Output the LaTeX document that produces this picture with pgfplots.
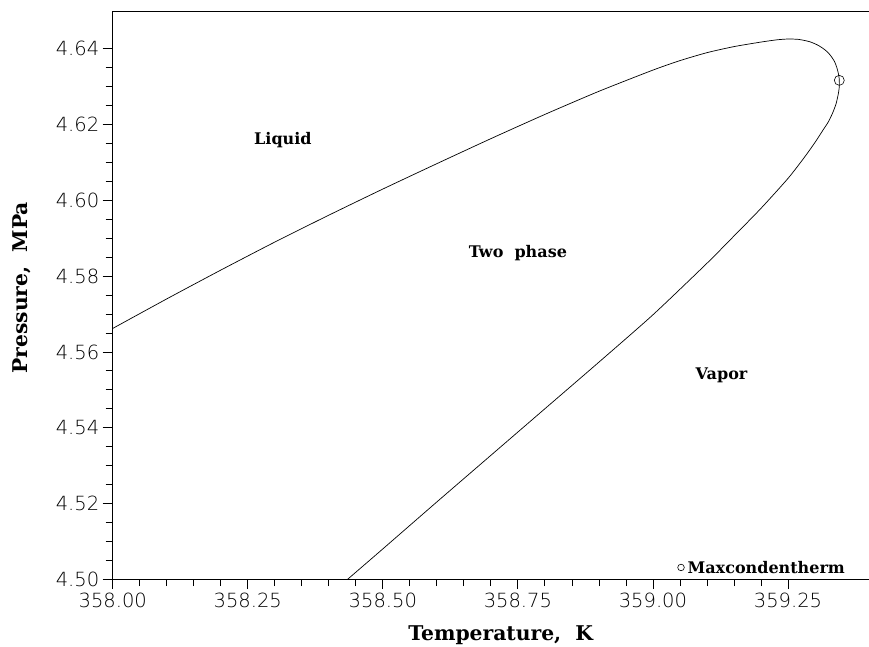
\documentclass[border=0pt]{standalone}
\usepackage{fontspec}
\setmainfont{DejaVu Serif}
\newfontfamily\tickfont{DejaVu Sans ExtraLight}
\usepackage{pgfplots}
\pgfplotsset{compat=1.18}

\begin{document}
\begin{tikzpicture}
\begin{axis}[
  name=ax,
  scale only axis, width=756pt, height=568pt,
  xmin=358, xmax=359.4, ymin=4.5, ymax=4.65,
  axis line style={draw=none},
  xtick={358,358.25,358.5,358.75,359,359.25},
  ytick={4.50,4.52,4.54,4.56,4.58,4.60,4.62,4.64},
  minor x tick num=4, minor y tick num=3,
  tick align=outside, xtick pos=left, ytick pos=left,
  major tick length=10pt, minor tick length=7pt,
  tick style={line width=0.8pt, black},
  /pgf/number format/.cd, fixed, zerofill, precision=2, 1000 sep={},
  assume math mode=true, /pgfplots/.cd,
  tick label style={font=\tickfont\fontsize{19.5}{19.5}\selectfont},
  xlabel={\bfseries Temperature,\ \ K},
  ylabel={\bfseries Pressure,\ \ MPa},
  every axis x label/.style={at={(rel axis cs:0.513,0)}, yshift=-61pt, anchor=base,
    font=\fontsize{20.3}{22}\selectfont},
  every axis y label/.style={at={(rel axis cs:0,0.513)}, xshift=-91pt, rotate=90, anchor=center,
    font=\fontsize{20.3}{22}\selectfont},
  clip=false,
]
\addplot[black, line width=0.7pt, smooth, tension=0.4] coordinates {
(358.00,4.5662) (358.10,4.5740) (358.20,4.5816) (358.30,4.5890)
(358.40,4.5961) (358.50,4.6030) (358.60,4.6097) (358.70,4.6163)
(358.80,4.6227) (358.90,4.6288) (359.00,4.6344) (359.05,4.6369)
(359.10,4.6390) (359.15,4.6406) (359.20,4.6418) (359.23,4.6424)
(359.25,4.6426) (359.27,4.6425) (359.29,4.6419) (359.305,4.6410)
(359.318,4.6398) (359.328,4.6384) (359.336,4.6367) (359.341,4.6348)
(359.344,4.6330) (359.345,4.6317) (359.345,4.6300) (359.343,4.6280)
(359.339,4.6255) (359.333,4.6232) (359.325,4.6208) (359.315,4.6186)
(359.300,4.6153) (359.280,4.6113) (359.250,4.6058) (359.200,4.5979)
(359.150,4.5906) (359.100,4.5834) (359.000,4.5698) (358.900,4.5573)
(358.800,4.5450) (358.700,4.5327) (358.600,4.5204) (358.500,4.5080)
(358.435,4.5000)
};
% critical point
\addplot[only marks, mark=o, mark size=5pt, mark options={line width=0.6pt}] coordinates {(359.345,4.6317)};
% maxcondentherm
\addplot[only marks, mark=o, mark size=3.3pt, mark options={line width=0.6pt}] coordinates {(359.052,4.5031)};
\node[anchor=west, font=\bfseries\fontsize{16}{16}\selectfont, inner sep=1pt] at (axis cs:359.062,4.5031) {Maxcondentherm};
\node[font=\bfseries\fontsize{16}{16}\selectfont] at (axis cs:358.315,4.616) {Liquid};
\node[font=\bfseries\fontsize{16}{16}\selectfont] at (axis cs:358.75,4.5861) {Two\ \ phase};
\node[font=\bfseries\fontsize{16}{16}\selectfont] at (axis cs:359.127,4.5539) {Vapor};
% frame: left, bottom and top lines only
\draw[line width=0.8pt] (rel axis cs:1,1) -- (rel axis cs:0,1) -- (rel axis cs:0,0) -- (rel axis cs:1,0);
\end{axis}
\pgfresetboundingbox
\path ([shift={(-112.7pt,-67pt)}]ax.south west) rectangle ([shift={(0pt,11pt)}]ax.north east);
\end{tikzpicture}
\end{document}
